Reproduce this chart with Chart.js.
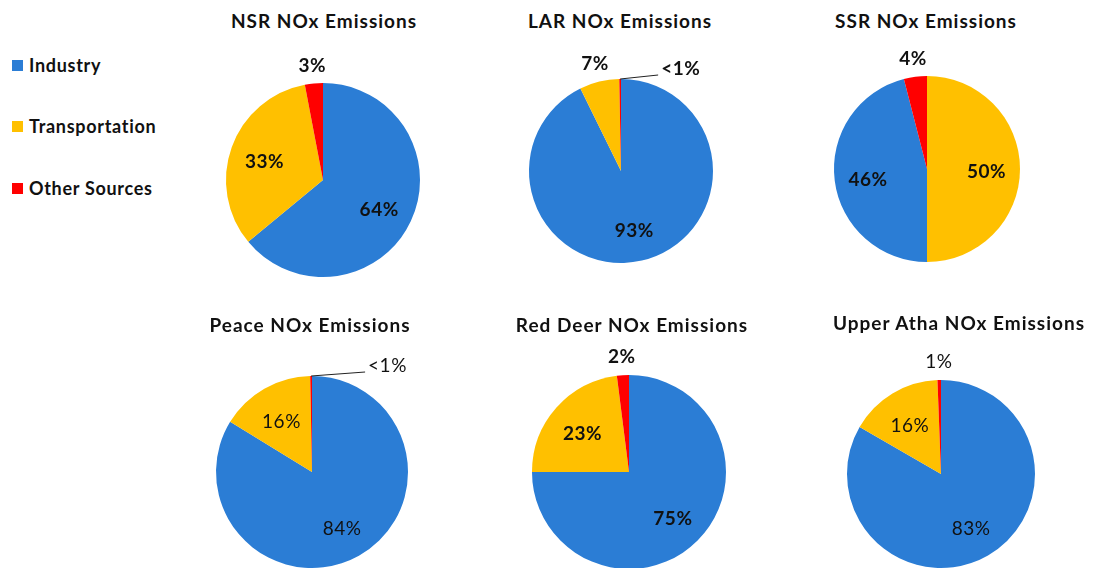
<!DOCTYPE html>
<html>
<head>
<meta charset="utf-8">
<script src="https://cdn.jsdelivr.net/npm/chart.js@4.4.0/dist/chart.umd.min.js"></script>
<style>
  html, body { margin: 0; padding: 0; background: #fff; overflow: hidden; }
  body { width: 1094px; height: 568px; position: relative; font-family: Lato, "Open Sans", sans-serif; color: #111; }
  .title { position: absolute; font-weight: bold; font-size: 19px; letter-spacing: 1px; white-space: nowrap; transform: translate(-50%, -50%); }
  .pie { position: absolute; }
  #legend { position: absolute; left: 12px; top: 0; }
  .legend-item { position: absolute; display: flex; align-items: center; white-space: nowrap; font-weight: bold; font-size: 18px; letter-spacing: 0.7px; transform: translateY(-50%); }
  .legend-item span.box { width: 11px; height: 11px; margin-right: 6px; display: inline-block; }
</style>
</head>
<body>
<div id="legend"></div>

<script>
const categories = ['Industry', 'Transportation', 'Other Sources'];
const colors = ['#2B7DD5', '#FFC000', '#FF0000'];

const regions = ['NSR', 'LAR', 'SSR', 'Peace', 'Red Deer', 'Upper Atha'];
const industry = [64, 93, 46, 84, 75, 83];
const transportation = [33, 7, 50, 16, 23, 16];
const otherSources = [3, 0.3, 4, 0.3, 2, 0.6];

// category order going clockwise from 12 o'clock
const sliceOrder = [[0, 1, 2], [0, 1, 2], [1, 0, 2], [0, 1, 2], [0, 1, 2], [0, 1, 2]];

// where each pie sits on the page
const panels = [
  { cx: 323, cy: 180, r: 97, tx: 324, ty: 20,  bold: true,  callout: 40 },
  { cx: 621, cy: 171, r: 92, tx: 620, ty: 20,  bold: true,  callout: 38 },
  { cx: 927, cy: 169, r: 93, tx: 926, ty: 20,  bold: true,  callout: 40 },
  { cx: 312, cy: 472, r: 96, tx: 310, ty: 324, bold: false, callout: 54 },
  { cx: 629, cy: 472, r: 97, tx: 632, ty: 324, bold: true,  callout: 40 },
  { cx: 941, cy: 474, r: 94, tx: 959, ty: 322, bold: false, callout: 40 }
];
const PAD = 50;

const legendRows = [65, 126, 188];

const legend = document.getElementById('legend');
categories.forEach((name, i) => {
  const item = document.createElement('div');
  item.className = 'legend-item';
  item.style.top = legendRows[i] + 'px';
  item.innerHTML = `<span class="box" style="background:${colors[i]}"></span>${name}`;
  legend.appendChild(item);
});

function labelFor(v) {
  return v < 0.5 ? '<1%' : Math.round(v) + '%';
}

// percentage labels: inside for big slices, outside for thin ones, leader line for <1%
const sliceLabels = {
  id: 'sliceLabels',
  afterDatasetsDraw(chart, args, opts) {
    const ctx = chart.ctx;
    const meta = chart.getDatasetMeta(0);
    const values = chart.data.datasets[0].data;
    const total = values.reduce((a, b) => a + b, 0);
    ctx.save();
    ctx.font = (opts.bold ? 'bold ' : '') + '19px Lato';
    ctx.letterSpacing = '0.5px';
    ctx.fillStyle = '#111';
    ctx.textBaseline = 'middle';
    meta.data.forEach((arc, i) => {
      const v = values[i];
      const p = arc.getProps(['x', 'y', 'startAngle', 'endAngle', 'outerRadius'], true);
      const mid = (p.startAngle + p.endAngle) / 2;
      const text = labelFor(v);
      if (v < 0.5) {
        const sx = p.x + Math.cos(mid) * p.outerRadius;
        const sy = p.y + Math.sin(mid) * p.outerRadius;
        const ex = sx + opts.callout;
        const ey = sy - 4;
        ctx.strokeStyle = '#222';
        ctx.lineWidth = 1;
        ctx.beginPath();
        ctx.moveTo(sx, sy);
        ctx.lineTo(ex, ey);
        ctx.stroke();
        ctx.textAlign = 'left';
        ctx.fillText(text, ex + 3, ey - 6);
      } else if (v / total < 0.1) {
        const d = p.outerRadius + 18;
        ctx.textAlign = 'center';
        ctx.fillText(text, p.x + Math.cos(mid) * d, p.y + Math.sin(mid) * d);
      } else {
        const d = p.outerRadius * 0.64;
        ctx.textAlign = 'center';
        ctx.fillText(text, p.x + Math.cos(mid) * d, p.y + Math.sin(mid) * d + 3);
      }
    });
    ctx.restore();
  }
};

regions.forEach((region, k) => {
  const panel = panels[k];
  const series = [industry[k], transportation[k], otherSources[k]];
  const order = sliceOrder[k];

  const title = document.createElement('div');
  title.className = 'title';
  title.style.left = panel.tx + 'px';
  title.style.top = panel.ty + 'px';
  title.textContent = `${region} NOx Emissions`;
  document.body.appendChild(title);

  const size = panel.r * 2 + PAD * 2;
  const canvas = document.createElement('canvas');
  canvas.className = 'pie';
  canvas.width = size;
  canvas.height = size;
  canvas.style.left = (panel.cx - panel.r - PAD) + 'px';
  canvas.style.top = (panel.cy - panel.r - PAD) + 'px';
  document.body.appendChild(canvas);

  new Chart(canvas.getContext('2d'), {
    type: 'pie',
    data: {
      labels: order.map(i => categories[i]),
      datasets: [{
        data: order.map(i => series[i]),
        backgroundColor: order.map(i => colors[i]),
        borderWidth: 0
      }]
    },
    options: {
      responsive: false,
      animation: false,
      layout: { padding: PAD },
      plugins: {
        legend: { display: false },
        tooltip: { enabled: false },
        sliceLabels: { bold: panel.bold, callout: panel.callout }
      }
    },
    plugins: [sliceLabels]
  });
});
</script>
</body>
</html>
